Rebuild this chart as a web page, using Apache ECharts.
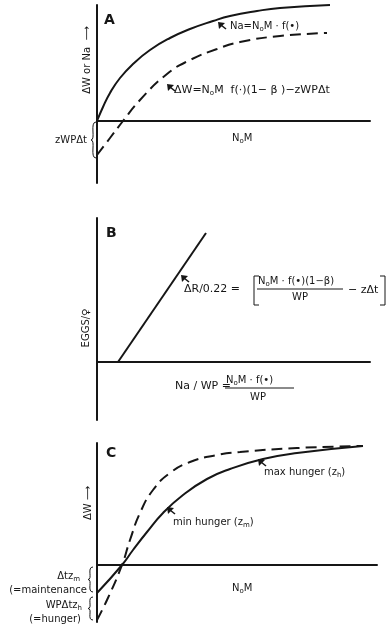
<!DOCTYPE html>
<html>
<head>
<meta charset="utf-8">
<script src="https://cdn.jsdelivr.net/npm/echarts@6/dist/echarts.min.js"></script>
<style>
  html, body { margin: 0; padding: 0; background: #fff; }
  #chart { width: 387px; height: 628px; }
</style>
</head>
<body>
<div id="chart"></div>
<script>
// data (x = food / N0M, y = growth), units
const grossA = [[0,0],[6,14],[13,28],[23,43],[36,57],[53,71],[73,83],[93,92],[116,100],[133,105],[160,110],[183,113],[233,116]];
const netA = [[0,-34],[13,-17],[26,0],[43,21],[70,47],[93,61],[120,72],[143,79],[183,85],[230,88]];
const eggsB = [[21,0],[109,129]];
const minHungerC = [[0,-28],[25,0],[36,15],[50,33],[66,52],[86,70],[110,86],[133,96],[166,106],[200,112],[266,119]];
const maxHungerC = [[0,-55],[10,-35],[25,0],[33,25],[43,52],[56,75],[73,92],[93,103],[120,110],[143,113],[200,117],[266,119]];

const ink = '#161616';
const font = 'DejaVu Sans';
const chart = echarts.init(document.getElementById('chart'));

const rich = {
  n: { fontFamily: font, fontSize: 10, lineHeight: 14, fill: ink, verticalAlign: 'middle' },
  w: { fontFamily: font, fontSize: 11, lineHeight: 14, fill: ink, verticalAlign: 'middle' },
  s: { fontFamily: font, fontSize: 7, lineHeight: 8, fill: ink, verticalAlign: 'bottom' },
  b: { fontFamily: font, fontSize: 14, fontWeight: 'bold', fill: ink }
};
const txt = (x, y, text, align) => ({
  type: 'text', x: x, y: y, z: 10,
  style: { text: text, rich: rich, align: align || 'left', verticalAlign: 'middle', fill: ink, font: '10px ' + font }
});
const vtxt = (x, y, text) => ({
  type: 'text', x: x, y: y, z: 10, rotation: Math.PI / 2,
  style: { text: text, align: 'center', verticalAlign: 'middle', fill: ink, font: '10px ' + font }
});
const seg = (x1, y1, x2, y2, w) => ({
  type: 'line', z: 10, shape: { x1, y1, x2, y2 }, style: { stroke: ink, lineWidth: w || 1.2 }
});
// little pointer arrows next to the curve labels
const pointer = (tx, ty) => [
  { type: 'polygon', z: 10, shape: { points: [[tx, ty], [tx + 7, ty + 1], [tx + 1, ty + 7]] }, style: { fill: ink } },
  seg(tx + 3, ty + 3, tx + 8, ty + 7, 1.6)
];
const bracket = (x, y1, y2, d) => ({
  type: 'polyline', z: 10,
  shape: { points: [[x + d, y1], [x, y1], [x, y2], [x + d, y2]] },
  style: { stroke: ink, lineWidth: 1, fill: null }
});
const brace = (x, y1, y2, w) => {
  const ym = (y1 + y2) / 2;
  return [
    { type: 'bezierCurve', z: 10, shape: { x1: x, y1: y1, cpx1: x - w * 1.3, cpy1: y1, cpx2: x, cpy2: ym, x2: x - w, y2: ym }, style: { stroke: ink, lineWidth: 1, fill: null } },
    { type: 'bezierCurve', z: 10, shape: { x1: x - w, y1: ym, cpx1: x, cpy1: ym, cpx2: x - w * 1.3, cpy2: y2, x2: x, y2: y2 }, style: { stroke: ink, lineWidth: 1, fill: null } }
  ];
};

const axisCommon = {
  type: 'value',
  axisLine: { show: true, onZero: true, lineStyle: { color: ink, width: 2 } },
  axisTick: { show: false },
  axisLabel: { show: false },
  splitLine: { show: false }
};
const lineSeries = (data, xi, dashed) => ({
  type: 'line', xAxisIndex: xi, yAxisIndex: xi, data: data,
  smooth: 0.5, showSymbol: false, silent: true,
  lineStyle: { color: ink, width: 2, type: dashed ? [11, 6] : 'solid' }
});

const option = {
  animation: false,
  grid: [
    { left: 97, top: 5, width: 273, height: 178 },
    { left: 97, top: 218, width: 273, height: 202 },
    { left: 97, top: 443, width: 280, height: 179 }
  ],
  xAxis: [
    Object.assign({}, axisCommon, { gridIndex: 0, min: 0, max: 273 }),
    Object.assign({}, axisCommon, { gridIndex: 1, min: 0, max: 273 }),
    Object.assign({}, axisCommon, { gridIndex: 2, min: 0, max: 280 })
  ],
  yAxis: [
    Object.assign({}, axisCommon, { gridIndex: 0, min: -62, max: 116 }),
    Object.assign({}, axisCommon, { gridIndex: 1, min: -58, max: 144 }),
    Object.assign({}, axisCommon, { gridIndex: 2, min: -57, max: 122 })
  ],
  series: [
    lineSeries(grossA, 0, false),
    lineSeries(netA, 0, true),
    Object.assign(lineSeries(eggsB, 1, false), { smooth: false }),
    lineSeries(minHungerC, 2, false),
    lineSeries(maxHungerC, 2, true)
  ],
  graphic: [
    // panel A
    txt(104, 20, '{b|A}'),
    vtxt(87, 60, 'ΔW or Na  ⟶'),
    ...pointer(218, 22),
    txt(230, 26, '{n|Na=N}{s|o}{n|M · f(•)}'),
    ...pointer(167, 84),
    txt(174, 90, '{w|ΔW=N}{s|o}{w|M  f(·)(1− β )−zWPΔt}'),
    txt(87, 140, '{n|zWPΔt}', 'right'),
    txt(232, 138, '{n|N}{s|o}{n|M}'),
    ...brace(96, 122, 158, 5),
    // panel B
    txt(106, 233, '{b|B}'),
    vtxt(86, 328, 'EGGS/♀'),
    ...pointer(181, 275),
    txt(184, 289, '{w|ΔR/0.22 =}'),
    bracket(254, 276, 305, 5),
    txt(258, 281, '{n|N}{s|o}{n|M · f(•)(1−β)}'),
    seg(257, 289, 343, 289, 1),
    txt(292, 297, '{n|WP}'),
    txt(348, 290, '{w|− zΔt}'),
    bracket(385, 276, 305, -5),
    txt(175, 386, '{w|Na / WP =}'),
    txt(226, 380, '{n|N}{s|o}{n|M · f(•)}'),
    seg(225, 388, 294, 388, 1),
    txt(250, 397, '{n|WP}'),
    // panel C
    txt(106, 453, '{b|C}'),
    vtxt(88, 503, 'ΔW ⟶'),
    ...pointer(258, 459),
    txt(264, 472, '{n|max hunger (z}{s|h}{n|)}'),
    ...pointer(167, 507),
    txt(173, 522, '{n|min hunger (z}{s|m}{n|)}'),
    txt(232, 588, '{n|N}{s|o}{n|M}'),
    txt(80, 576, '{n|Δtz}{s|m}', 'right'),
    txt(87, 590, '{n|(=maintenance}', 'right'),
    ...brace(93, 567, 592, 5),
    txt(82, 605, '{n|WPΔtz}{s|h}', 'right'),
    txt(81, 619, '{n|(=hunger)}', 'right'),
    ...brace(93, 597, 620, 5)
  ]
};
chart.setOption(option);
</script>
</body>
</html>
